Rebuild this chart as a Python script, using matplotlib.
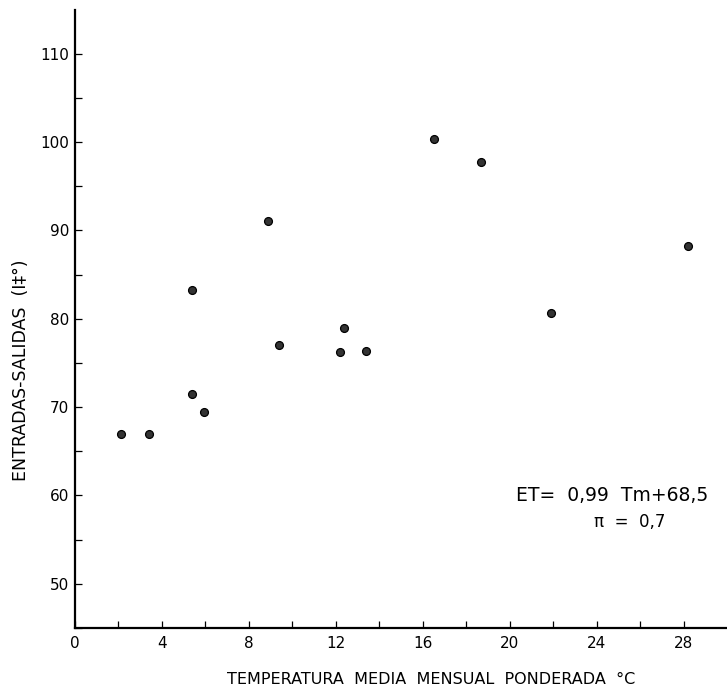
import matplotlib
matplotlib.use("Agg")
import matplotlib.pyplot as plt
import numpy as np

# temperatura media mensual ponderada (°C) vs entradas-salidas
temp = [2.1, 3.4, 5.4, 5.4, 5.95, 8.9, 9.4, 12.2, 12.4, 13.4, 16.5, 18.7, 21.9, 28.2]
es = [66.9, 66.9, 83.3, 71.5, 69.4, 91.1, 77.0, 76.2, 78.9, 76.3, 100.4, 97.8, 80.6, 88.2]

x_ticks = [0, 4, 8, 12, 16, 20, 24, 28]
y_ticks = [50, 60, 70, 80, 90, 100, 110]

plt.rcParams['font.family'] = ['DejaVu Sans']

fig = plt.figure(figsize=(7.27, 6.93), dpi=100)
ax = fig.add_axes([0.103, 0.094, 0.897, 0.892])

ax.scatter(temp, es, s=32, c='#333333', edgecolors='black', linewidths=0.9, zorder=3)

ax.set_xlim(0, 30)
ax.set_ylim(45, 115)

ax.spines['top'].set_visible(False)
ax.spines['right'].set_visible(False)
ax.spines['left'].set_linewidth(1.6)
ax.spines['bottom'].set_linewidth(1.6)

ax.set_xticks(x_ticks)
ax.set_xticks(np.arange(2, 30, 4), minor=True)
ax.set_yticks(y_ticks)
ax.set_yticks(np.arange(45, 115, 10), minor=True)
ax.tick_params(axis='both', which='both', direction='in', length=5, width=0.9, labelsize=11)
ax.tick_params(axis='x', pad=6)
ax.tick_params(axis='y', pad=4)

ax.set_xlabel('TEMPERATURA  MEDIA  MENSUAL  PONDERADA  °C', fontsize=11.5)
ax.xaxis.set_label_coords(0.546, -0.072)
ax.set_ylabel('ENTRADAS-SALIDAS  (I‡°)', fontsize=12.5)
ax.yaxis.set_label_coords(-0.069, 0.416)

ax.text(0.824, 0.206, 'ET=  0,99  Tm+68,5', transform=ax.transAxes, fontsize=13.5, ha='center')
ax.text(0.851, 0.163, 'π  =  0,7', transform=ax.transAxes, fontsize=12, ha='center')

fig.savefig('out.png', dpi=100)
